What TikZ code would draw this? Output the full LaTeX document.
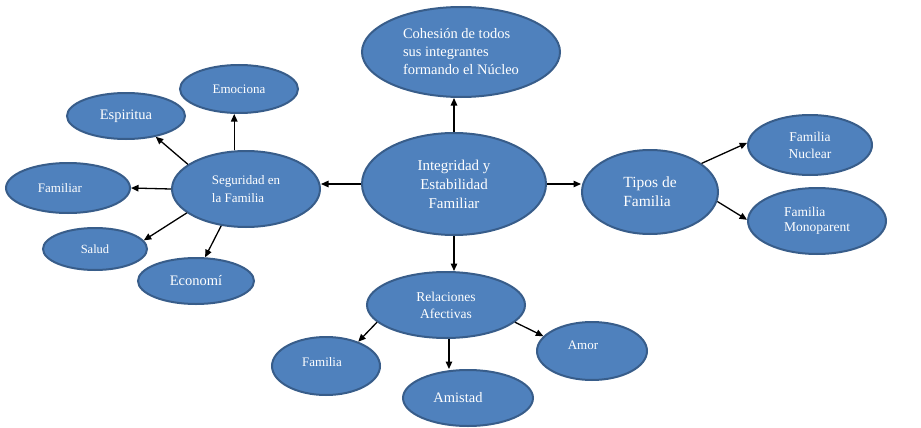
\documentclass[tikz,border=0pt]{standalone}
\usepackage{fontspec}
\setmainfont{Liberation Serif}
\usepackage{xcolor}
\usetikzlibrary{shapes.geometric, arrows.meta, positioning, calc}
\definecolor{officeblue}{RGB}{79, 129, 189}
\definecolor{officeedge}{RGB}{56, 93, 138}

\begin{document}
\begin{tikzpicture}[x=1pt, y=-1pt,
    idea/.style={ellipse, draw=officeedge, fill=officeblue, line width=2pt,
                 inner sep=0pt, text=white, align=left},
    arrow/.style={-{Triangle[length=7.5pt, width=6.5pt]}, line width=1.3pt, color=black},
]
    \useasboundingbox (0,0) rectangle (921,428);

    \node[idea, minimum width=184, minimum height=102, align=center,
          font=\fontsize{15}{19}\selectfont] (integ) at (454,184)
          {Integridad y\\Estabilidad\\Familiar};

    % arriba
    \node[idea, minimum width=198, minimum height=90,
          font=\fontsize{14.5}{18}\selectfont] (coh) at (461,52)
          {Cohesión de todos\\sus integrantes\\formando el Núcleo};

    % izquierda: seguridad
    \node[idea, minimum width=148, minimum height=76,
          font=\fontsize{13}{18}\selectfont] (seg) at (246,189)
          {Seguridad en\\la Familia};
    \node[idea, minimum width=118, minimum height=48, font=\fontsize{13}{15}\selectfont]
          (emo) at (239,89) {Emociona};
    \node[idea, minimum width=118, minimum height=46, font=\fontsize{14.5}{17}\selectfont]
          (esp) at (126,116) {Espiritua};
    \node[idea, minimum width=124, minimum height=50, font=\fontsize{13}{15}\selectfont]
          (fam) at (68,188) {Familiar\hspace{16pt}};
    \node[idea, minimum width=104, minimum height=42, font=\fontsize{12.5}{15}\selectfont]
          (sal) at (95,249) {Salud};
    \node[idea, minimum width=116, minimum height=46, font=\fontsize{14.5}{17}\selectfont]
          (eco) at (196,281) {Economí};

    % derecha: tipos
    \node[idea, minimum width=136, minimum height=84,
          font=\fontsize{15.5}{19}\selectfont] (tip) at (650,192)
          {Tipos de\hspace{18pt}\\Familia};
    \node[idea, minimum width=124, minimum height=60, align=center,
          font=\fontsize{13.5}{17}\selectfont] (nuc) at (810,145)
          {Familia\\Nuclear};
    \node[idea, minimum width=138, minimum height=66,
          font=\fontsize{13.5}{15}\selectfont] (mono) at (817,221)
          {Familia\\Monoparent};

    % abajo: relaciones
    \node[idea, minimum width=158, minimum height=66, align=center,
          font=\fontsize{13.5}{17}\selectfont] (rel) at (446,305)
          {Relaciones\\Afectivas};
    \node[idea, minimum width=108, minimum height=58, font=\fontsize{13}{15}\selectfont]
          (fmla) at (326,366) {\raisebox{8pt}{Familia}\hspace{8pt}};
    \node[idea, minimum width=130, minimum height=56, font=\fontsize{14.5}{17}\selectfont]
          (amis) at (468,398) {Amistad\hspace{20pt}};
    \node[idea, minimum width=110, minimum height=58, font=\fontsize{13}{15}\selectfont]
          (amor) at (592,351) {\raisebox{12pt}{Amor}\hspace{18pt}};

    % Arrows
    \draw[arrow] (integ.north) -- (integ.north |- coh.south);
    \draw[arrow] (integ.west) -- (integ.west -| seg.east);
    \draw[arrow] (integ.east) -- (integ.east -| tip.west);
    \draw[arrow] (integ.south) -- (integ.south |- rel.north);

    \draw[arrow] (seg.107) -- (seg.107 |- emo.south);
    \draw[arrow] (seg.157) -- (esp.-35);
    \draw[arrow] (seg.west) -- (fam.east);
    \draw[arrow] (seg.202) -- (sal.10);
    \draw[arrow] (seg.236) -- (eco.69);

    \draw[arrow] (tip.29) -- (nuc.178);
    \draw[arrow] (tip.-8) -- (mono.179);

    \draw[arrow] (rel.194) -- (fmla.37);
    \draw[arrow] (rel.-85) -- (rel.-85 |- amis.north);
    \draw[arrow] (rel.-14) -- (amor.163);
\end{tikzpicture}
\end{document}
